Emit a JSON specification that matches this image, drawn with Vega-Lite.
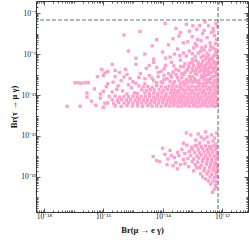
{
"$schema": "https://vega.github.io/schema/vega-lite/v6.json",
"width": 212, "height": 211,
"autosize": {"type": "none"},
"padding": {"left": 36, "top": 1, "right": 1, "bottom": 28},
"config": {"view": {"stroke": "#333", "strokeWidth": 1},
 "axis": {"labelFont": "Liberation Serif", "titleFont": "Liberation Serif", "domain": false, "grid": false, "tickColor": "#333", "tickWidth": 0.8, "labelColor": "#222", "labelFontSize": 7.5, "titleColor": "#111", "titleFontSize": 8.5, "titleFontWeight": "bold", "labelOverlap": false, "labelFlush": false, "labelBound": false}},
"resolve": {"axis": {"x": "independent", "y": "independent"}},
"layer": [
{"data": {"values": [
{"muEG":-12.57,"tauMuG":-7.44},{"muEG":-12.45,"tauMuG":-7.62},{"muEG":-12.2,"tauMuG":-7.5},{"muEG":-13.2,"tauMuG":-7.55},{"muEG":-13.92,"tauMuG":-7.5},{"muEG":-12.85,"tauMuG":-7.8},{"muEG":-13.1,"tauMuG":-7.88},{"muEG":-12.3,"tauMuG":-7.75},{"muEG":-13.4,"tauMuG":-7.95},{"muEG":-12.65,"tauMuG":-8.0},{"muEG":-14.76,"tauMuG":-7.9},{"muEG":-14.2,"tauMuG":-8.3},{"muEG":-13.65,"tauMuG":-8.25},{"muEG":-13.0,"tauMuG":-8.15},{"muEG":-12.7,"tauMuG":-8.35},{"muEG":-12.25,"tauMuG":-8.1},{"muEG":-12.4,"tauMuG":-8.45},{"muEG":-12.9,"tauMuG":-8.5},{"muEG":-13.8,"tauMuG":-8.55},{"muEG":-14.35,"tauMuG":-8.6},{"muEG":-12.18,"tauMuG":-8.3},{"muEG":-12.55,"tauMuG":-8.62},{"muEG":-13.3,"tauMuG":-8.45},{"muEG":-15.3,"tauMuG":-8.07},{"muEG":-12.98,"tauMuG":-7.62},{"muEG":-13.55,"tauMuG":-7.75},{"muEG":-12.35,"tauMuG":-7.95},{"muEG":-12.16,"tauMuG":-7.65},
{"muEG":-12.5,"tauMuG":-8.2},{"muEG":-12.82,"tauMuG":-8.28},{"muEG":-12.22,"tauMuG":-8.5},{"muEG":-13.15,"tauMuG":-8.4},{"muEG":-12.6,"tauMuG":-7.85},{"muEG":-12.28,"tauMuG":-7.88},{"muEG":-13.45,"tauMuG":-8.12},{"muEG":-12.75,"tauMuG":-7.6},
{"muEG":-15.15,"tauMuG":-8.85},{"muEG":-14.6,"tauMuG":-9.0},{"muEG":-14.0,"tauMuG":-8.9},{"muEG":-13.5,"tauMuG":-8.75},{"muEG":-13.2,"tauMuG":-9.1},{"muEG":-12.95,"tauMuG":-8.7},{"muEG":-12.8,"tauMuG":-8.95},{"muEG":-12.6,"tauMuG":-8.8},{"muEG":-12.45,"tauMuG":-9.05},{"muEG":-12.3,"tauMuG":-8.7},{"muEG":-12.2,"tauMuG":-8.9},{"muEG":-12.15,"tauMuG":-9.2},{"muEG":-12.35,"tauMuG":-9.22},{"muEG":-12.55,"tauMuG":-9.25},{"muEG":-12.7,"tauMuG":-9.15},{"muEG":-13.0,"tauMuG":-9.25},{"muEG":-13.4,"tauMuG":-9.3},{"muEG":-13.75,"tauMuG":-9.15},{"muEG":-14.3,"tauMuG":-9.25},{"muEG":-12.25,"tauMuG":-9.05},{"muEG":-12.5,"tauMuG":-8.95},{"muEG":-12.85,"tauMuG":-8.6},{"muEG":-13.6,"tauMuG":-9.0},{"muEG":-14.9,"tauMuG":-9.2},{"muEG":-13.1,"tauMuG":-8.85},{"muEG":-12.4,"tauMuG":-8.8},{"muEG":-12.62,"tauMuG":-9.08},
{"muEG":-12.9,"tauMuG":-9.12},{"muEG":-12.72,"tauMuG":-8.88},{"muEG":-12.5,"tauMuG":-9.15},{"muEG":-12.3,"tauMuG":-9.12},{"muEG":-12.22,"tauMuG":-8.78},{"muEG":-13.3,"tauMuG":-8.95},
{"muEG":-12.38,"tauMuG":-8.62},{"muEG":-12.68,"tauMuG":-8.7},{"muEG":-13.0,"tauMuG":-8.98},{"muEG":-12.18,"tauMuG":-9.02},{"muEG":-13.42,"tauMuG":-9.08},{"muEG":-13.9,"tauMuG":-9.2},{"muEG":-12.42,"tauMuG":-9.25},
{"muEG":-15.7,"tauMuG":-9.5},{"muEG":-15.25,"tauMuG":-9.75},{"muEG":-14.9,"tauMuG":-9.5},{"muEG":-14.55,"tauMuG":-9.7},{"muEG":-14.3,"tauMuG":-9.4},{"muEG":-14.05,"tauMuG":-9.85},{"muEG":-13.9,"tauMuG":-9.55},{"muEG":-13.7,"tauMuG":-9.4},{"muEG":-13.55,"tauMuG":-9.75},{"muEG":-13.4,"tauMuG":-9.6},{"muEG":-13.25,"tauMuG":-9.9},{"muEG":-13.1,"tauMuG":-9.45},{"muEG":-13.0,"tauMuG":-9.7},{"muEG":-12.9,"tauMuG":-9.95},{"muEG":-12.8,"tauMuG":-9.4},{"muEG":-12.7,"tauMuG":-9.6},{"muEG":-12.6,"tauMuG":-9.8},{"muEG":-12.5,"tauMuG":-9.45},{"muEG":-12.42,"tauMuG":-9.65},{"muEG":-12.35,"tauMuG":-9.9},{"muEG":-12.28,"tauMuG":-9.35},{"muEG":-12.2,"tauMuG":-9.55},{"muEG":-12.15,"tauMuG":-9.75},{"muEG":-12.18,"tauMuG":-9.95},{"muEG":-12.3,"tauMuG":-9.7},{"muEG":-12.45,"tauMuG":-9.85},{"muEG":-12.55,"tauMuG":-9.55},{"muEG":-12.65,"tauMuG":-9.35},{"muEG":-12.75,"tauMuG":-9.85},{"muEG":-12.95,"tauMuG":-9.55},{"muEG":-13.15,"tauMuG":-9.75},{"muEG":-13.35,"tauMuG":-9.95},{"muEG":-13.8,"tauMuG":-9.95},{"muEG":-14.2,"tauMuG":-9.65},{"muEG":-12.25,"tauMuG":-9.45},{"muEG":-12.38,"tauMuG":-9.5},{"muEG":-12.6,"tauMuG":-9.95},{"muEG":-12.85,"tauMuG":-9.7},{"muEG":-15.45,"tauMuG":-9.9},{"muEG":-14.75,"tauMuG":-9.95},{"muEG":-16.05,"tauMuG":-9.75},{"muEG":-15.85,"tauMuG":-9.85},{"muEG":-15.6,"tauMuG":-9.8},{"muEG":-15.95,"tauMuG":-9.92},{"muEG":-12.22,"tauMuG":-9.85},{"muEG":-12.48,"tauMuG":-9.75},{"muEG":-12.68,"tauMuG":-9.5},{"muEG":-12.88,"tauMuG":-9.85},{"muEG":-13.05,"tauMuG":-9.9},{"muEG":-12.16,"tauMuG":-9.4},
{"muEG":-13.0,"tauMuG":-9.4},{"muEG":-12.42,"tauMuG":-9.38},{"muEG":-12.88,"tauMuG":-9.3},{"muEG":-13.3,"tauMuG":-9.62},{"muEG":-13.12,"tauMuG":-9.6},{"muEG":-12.78,"tauMuG":-9.64},{"muEG":-12.36,"tauMuG":-9.6},{"muEG":-12.24,"tauMuG":-9.66},{"muEG":-13.45,"tauMuG":-9.8},{"muEG":-13.2,"tauMuG":-9.82},{"muEG":-12.98,"tauMuG":-9.8},{"muEG":-12.7,"tauMuG":-9.78},{"muEG":-12.52,"tauMuG":-9.82},{"muEG":-12.28,"tauMuG":-9.8},{"muEG":-14.45,"tauMuG":-9.55},{"muEG":-13.62,"tauMuG":-9.58},
{"muEG":-13.65,"tauMuG":-9.88},{"muEG":-13.95,"tauMuG":-9.72},{"muEG":-14.15,"tauMuG":-9.9},{"muEG":-13.25,"tauMuG":-9.48},{"muEG":-12.58,"tauMuG":-9.68},{"muEG":-12.8,"tauMuG":-9.52},
{"muEG":-16.95,"tauMuG":-10.4},{"muEG":-16.85,"tauMuG":-10.4},{"muEG":-16.75,"tauMuG":-10.42},{"muEG":-16.62,"tauMuG":-10.4},{"muEG":-16.5,"tauMuG":-10.4},{"muEG":-16.2,"tauMuG":-10.1},{"muEG":-16.0,"tauMuG":-10.05},{"muEG":-15.85,"tauMuG":-10.45},{"muEG":-15.6,"tauMuG":-10.1},{"muEG":-15.4,"tauMuG":-10.3},{"muEG":-15.2,"tauMuG":-10.0},{"muEG":-15.0,"tauMuG":-10.35},{"muEG":-14.8,"tauMuG":-10.15},{"muEG":-14.6,"tauMuG":-10.45},{"muEG":-14.45,"tauMuG":-10.05},{"muEG":-14.3,"tauMuG":-10.3},{"muEG":-14.15,"tauMuG":-10.1},{"muEG":-14.0,"tauMuG":-10.4},{"muEG":-13.85,"tauMuG":-10.2},{"muEG":-13.72,"tauMuG":-10.05},{"muEG":-13.6,"tauMuG":-10.35},{"muEG":-13.5,"tauMuG":-10.15},{"muEG":-13.4,"tauMuG":-10.45},{"muEG":-13.3,"tauMuG":-10.0},{"muEG":-13.2,"tauMuG":-10.25},{"muEG":-13.1,"tauMuG":-10.1},{"muEG":-13.0,"tauMuG":-10.4},{"muEG":-12.92,"tauMuG":-10.2},{"muEG":-12.85,"tauMuG":-10.0},{"muEG":-12.78,"tauMuG":-10.3},{"muEG":-12.7,"tauMuG":-10.15},{"muEG":-12.62,"tauMuG":-10.45},{"muEG":-12.55,"tauMuG":-10.05},{"muEG":-12.48,"tauMuG":-10.25},{"muEG":-12.4,"tauMuG":-10.4},{"muEG":-12.33,"tauMuG":-10.1},{"muEG":-12.26,"tauMuG":-10.3},{"muEG":-12.2,"tauMuG":-10.0},{"muEG":-12.15,"tauMuG":-10.2},{"muEG":-12.16,"tauMuG":-10.45},{"muEG":-12.3,"tauMuG":-10.45},{"muEG":-12.45,"tauMuG":-10.0},{"muEG":-12.6,"tauMuG":-10.25},{"muEG":-12.75,"tauMuG":-10.45},{"muEG":-12.95,"tauMuG":-10.35},{"muEG":-13.15,"tauMuG":-10.4},{"muEG":-13.45,"tauMuG":-10.3},{"muEG":-13.65,"tauMuG":-10.45},{"muEG":-13.95,"tauMuG":-10.25},{"muEG":-14.2,"tauMuG":-10.4},{"muEG":-12.22,"tauMuG":-10.35},{"muEG":-12.38,"tauMuG":-10.2},{"muEG":-12.52,"tauMuG":-10.4},{"muEG":-12.68,"tauMuG":-10.05},{"muEG":-12.88,"tauMuG":-10.3},{"muEG":-13.05,"tauMuG":-10.2},{"muEG":-13.25,"tauMuG":-10.45},{"muEG":-13.55,"tauMuG":-10.0},{"muEG":-14.6,"tauMuG":-10.2},{"muEG":-15.1,"tauMuG":-10.2},{"muEG":-15.67,"tauMuG":-10.37},
{"muEG":-13.7,"tauMuG":-10.12},{"muEG":-13.35,"tauMuG":-10.14},{"muEG":-13.0,"tauMuG":-10.1},{"muEG":-12.62,"tauMuG":-10.13},{"muEG":-12.25,"tauMuG":-10.1},{"muEG":-14.05,"tauMuG":-10.36},{"muEG":-13.75,"tauMuG":-10.34},{"muEG":-13.3,"tauMuG":-10.36},{"muEG":-13.08,"tauMuG":-10.3},{"muEG":-12.82,"tauMuG":-10.38},{"muEG":-12.44,"tauMuG":-10.32},{"muEG":-14.35,"tauMuG":-10.18},{"muEG":-14.9,"tauMuG":-10.42},{"muEG":-15.3,"tauMuG":-10.12},{"muEG":-13.95,"tauMuG":-10.05},
{"muEG":-16.55,"tauMuG":-10.9},{"muEG":-16.3,"tauMuG":-10.7},{"muEG":-16.1,"tauMuG":-10.95},{"muEG":-15.9,"tauMuG":-10.6},{"muEG":-15.7,"tauMuG":-10.85},{"muEG":-15.5,"tauMuG":-10.55},{"muEG":-15.35,"tauMuG":-10.8},{"muEG":-15.2,"tauMuG":-10.95},{"muEG":-15.05,"tauMuG":-10.65},{"muEG":-14.95,"tauMuG":-10.9},{"muEG":-15.55,"tauMuG":-10.72},{"muEG":-15.15,"tauMuG":-10.5},{"muEG":-16.0,"tauMuG":-10.82},
{"muEG":-14.8,"tauMuG":-10.56},{"muEG":-14.65,"tauMuG":-10.6},{"muEG":-14.5,"tauMuG":-10.58},{"muEG":-14.35,"tauMuG":-10.62},{"muEG":-14.2,"tauMuG":-10.55},{"muEG":-14.05,"tauMuG":-10.59},{"muEG":-13.9,"tauMuG":-10.61},{"muEG":-13.78,"tauMuG":-10.56},{"muEG":-13.65,"tauMuG":-10.6},{"muEG":-13.52,"tauMuG":-10.57},{"muEG":-13.4,"tauMuG":-10.62},{"muEG":-13.28,"tauMuG":-10.55},{"muEG":-13.15,"tauMuG":-10.6},{"muEG":-13.02,"tauMuG":-10.58},{"muEG":-12.9,"tauMuG":-10.61},{"muEG":-12.78,"tauMuG":-10.56},{"muEG":-12.66,"tauMuG":-10.6},{"muEG":-12.54,"tauMuG":-10.57},{"muEG":-12.42,"tauMuG":-10.62},{"muEG":-12.3,"tauMuG":-10.58},{"muEG":-12.18,"tauMuG":-10.6},
{"muEG":-14.7,"tauMuG":-10.75},{"muEG":-14.55,"tauMuG":-10.78},{"muEG":-14.42,"tauMuG":-10.73},{"muEG":-14.28,"tauMuG":-10.76},{"muEG":-14.12,"tauMuG":-10.74},{"muEG":-13.98,"tauMuG":-10.77},{"muEG":-13.84,"tauMuG":-10.73},{"muEG":-13.7,"tauMuG":-10.76},{"muEG":-13.58,"tauMuG":-10.75},{"muEG":-13.46,"tauMuG":-10.78},{"muEG":-13.34,"tauMuG":-10.74},{"muEG":-13.22,"tauMuG":-10.76},{"muEG":-13.1,"tauMuG":-10.73},{"muEG":-12.98,"tauMuG":-10.77},{"muEG":-12.86,"tauMuG":-10.75},{"muEG":-12.74,"tauMuG":-10.74},{"muEG":-12.62,"tauMuG":-10.77},{"muEG":-12.5,"tauMuG":-10.73},{"muEG":-12.38,"tauMuG":-10.76},{"muEG":-12.26,"tauMuG":-10.75},{"muEG":-12.15,"tauMuG":-10.77},
{"muEG":-14.85,"tauMuG":-10.92},{"muEG":-14.6,"tauMuG":-10.9},{"muEG":-14.45,"tauMuG":-10.94},{"muEG":-14.3,"tauMuG":-10.91},{"muEG":-14.16,"tauMuG":-10.93},{"muEG":-14.02,"tauMuG":-10.9},{"muEG":-13.88,"tauMuG":-10.94},{"muEG":-13.74,"tauMuG":-10.91},{"muEG":-13.62,"tauMuG":-10.92},{"muEG":-13.5,"tauMuG":-10.9},{"muEG":-13.38,"tauMuG":-10.94},{"muEG":-13.26,"tauMuG":-10.91},{"muEG":-13.14,"tauMuG":-10.93},{"muEG":-13.02,"tauMuG":-10.9},{"muEG":-12.9,"tauMuG":-10.94},{"muEG":-12.78,"tauMuG":-10.92},{"muEG":-12.66,"tauMuG":-10.9},{"muEG":-12.54,"tauMuG":-10.93},{"muEG":-12.42,"tauMuG":-10.91},{"muEG":-12.3,"tauMuG":-10.94},{"muEG":-12.2,"tauMuG":-10.9},
{"muEG":-17.22,"tauMuG":-11.55},{"muEG":-16.78,"tauMuG":-11.55},{"muEG":-16.55,"tauMuG":-11.1},{"muEG":-16.4,"tauMuG":-11.3},{"muEG":-16.25,"tauMuG":-11.5},{"muEG":-16.1,"tauMuG":-11.15},{"muEG":-15.95,"tauMuG":-11.4},{"muEG":-16.0,"tauMuG":-11.6},
{"muEG":-15.8,"tauMuG":-11.08},{"muEG":-15.6,"tauMuG":-11.06},{"muEG":-15.45,"tauMuG":-11.1},{"muEG":-15.3,"tauMuG":-11.07},{"muEG":-15.15,"tauMuG":-11.09},{"muEG":-15.0,"tauMuG":-11.06},{"muEG":-14.86,"tauMuG":-11.1},{"muEG":-14.72,"tauMuG":-11.07},{"muEG":-14.58,"tauMuG":-11.08},{"muEG":-14.44,"tauMuG":-11.06},{"muEG":-14.3,"tauMuG":-11.1},{"muEG":-14.17,"tauMuG":-11.07},{"muEG":-14.04,"tauMuG":-11.09},{"muEG":-13.91,"tauMuG":-11.06},{"muEG":-13.78,"tauMuG":-11.1},{"muEG":-13.66,"tauMuG":-11.08},{"muEG":-13.54,"tauMuG":-11.06},{"muEG":-13.42,"tauMuG":-11.09},{"muEG":-13.3,"tauMuG":-11.07},{"muEG":-13.18,"tauMuG":-11.1},{"muEG":-13.06,"tauMuG":-11.06},{"muEG":-12.94,"tauMuG":-11.08},{"muEG":-12.82,"tauMuG":-11.07},{"muEG":-12.7,"tauMuG":-11.09},{"muEG":-12.58,"tauMuG":-11.06},{"muEG":-12.46,"tauMuG":-11.1},{"muEG":-12.34,"tauMuG":-11.07},{"muEG":-12.22,"tauMuG":-11.08},
{"muEG":-15.7,"tauMuG":-11.23},{"muEG":-15.52,"tauMuG":-11.25},{"muEG":-15.38,"tauMuG":-11.21},{"muEG":-15.22,"tauMuG":-11.24},{"muEG":-15.08,"tauMuG":-11.22},{"muEG":-14.93,"tauMuG":-11.25},{"muEG":-14.79,"tauMuG":-11.21},{"muEG":-14.65,"tauMuG":-11.24},{"muEG":-14.51,"tauMuG":-11.23},{"muEG":-14.37,"tauMuG":-11.25},{"muEG":-14.23,"tauMuG":-11.21},{"muEG":-14.1,"tauMuG":-11.24},{"muEG":-13.97,"tauMuG":-11.22},{"muEG":-13.84,"tauMuG":-11.25},{"muEG":-13.72,"tauMuG":-11.23},{"muEG":-13.6,"tauMuG":-11.21},{"muEG":-13.48,"tauMuG":-11.24},{"muEG":-13.36,"tauMuG":-11.22},{"muEG":-13.24,"tauMuG":-11.25},{"muEG":-13.12,"tauMuG":-11.23},{"muEG":-13.0,"tauMuG":-11.21},{"muEG":-12.88,"tauMuG":-11.24},{"muEG":-12.76,"tauMuG":-11.22},{"muEG":-12.64,"tauMuG":-11.25},{"muEG":-12.52,"tauMuG":-11.23},{"muEG":-12.4,"tauMuG":-11.21},{"muEG":-12.28,"tauMuG":-11.24},{"muEG":-12.16,"tauMuG":-11.22},
{"muEG":-15.85,"tauMuG":-11.38},{"muEG":-15.65,"tauMuG":-11.4},{"muEG":-15.48,"tauMuG":-11.36},{"muEG":-15.3,"tauMuG":-11.39},{"muEG":-15.15,"tauMuG":-11.37},{"muEG":-15.0,"tauMuG":-11.4},{"muEG":-14.85,"tauMuG":-11.36},{"muEG":-14.7,"tauMuG":-11.39},{"muEG":-14.56,"tauMuG":-11.38},{"muEG":-14.42,"tauMuG":-11.4},{"muEG":-14.28,"tauMuG":-11.36},{"muEG":-14.14,"tauMuG":-11.39},{"muEG":-14.0,"tauMuG":-11.37},{"muEG":-13.87,"tauMuG":-11.4},{"muEG":-13.74,"tauMuG":-11.38},{"muEG":-13.62,"tauMuG":-11.36},{"muEG":-13.5,"tauMuG":-11.39},{"muEG":-13.38,"tauMuG":-11.37},{"muEG":-13.26,"tauMuG":-11.4},{"muEG":-13.14,"tauMuG":-11.38},{"muEG":-13.02,"tauMuG":-11.36},{"muEG":-12.9,"tauMuG":-11.39},{"muEG":-12.78,"tauMuG":-11.37},{"muEG":-12.66,"tauMuG":-11.4},{"muEG":-12.54,"tauMuG":-11.38},{"muEG":-12.42,"tauMuG":-11.36},{"muEG":-12.3,"tauMuG":-11.39},{"muEG":-12.18,"tauMuG":-11.37},
{"muEG":-15.6,"tauMuG":-11.53},{"muEG":-15.4,"tauMuG":-11.55},{"muEG":-15.2,"tauMuG":-11.51},{"muEG":-15.02,"tauMuG":-11.54},{"muEG":-14.85,"tauMuG":-11.52},{"muEG":-14.68,"tauMuG":-11.55},{"muEG":-14.5,"tauMuG":-11.51},{"muEG":-14.35,"tauMuG":-11.54},{"muEG":-14.2,"tauMuG":-11.53},{"muEG":-14.05,"tauMuG":-11.55},{"muEG":-13.9,"tauMuG":-11.51},{"muEG":-13.76,"tauMuG":-11.54},{"muEG":-13.62,"tauMuG":-11.52},{"muEG":-13.48,"tauMuG":-11.55},{"muEG":-13.35,"tauMuG":-11.53},{"muEG":-13.22,"tauMuG":-11.51},{"muEG":-13.1,"tauMuG":-11.54},{"muEG":-12.96,"tauMuG":-11.52},{"muEG":-12.84,"tauMuG":-11.55},{"muEG":-12.72,"tauMuG":-11.53},{"muEG":-12.6,"tauMuG":-11.51},{"muEG":-12.48,"tauMuG":-11.54},{"muEG":-12.36,"tauMuG":-11.52},{"muEG":-12.24,"tauMuG":-11.55},{"muEG":-12.15,"tauMuG":-11.53},
{"muEG":-14.32,"tauMuG":-14.0},{"muEG":-14.2,"tauMuG":-14.2},{"muEG":-14.1,"tauMuG":-14.25},{"muEG":-13.92,"tauMuG":-13.9},{"muEG":-13.82,"tauMuG":-14.12},{"muEG":-13.6,"tauMuG":-14.05},{"muEG":-13.55,"tauMuG":-14.3},{"muEG":-13.5,"tauMuG":-13.8},{"muEG":-13.35,"tauMuG":-13.65},{"muEG":-13.2,"tauMuG":-12.85},{"muEG":-13.05,"tauMuG":-12.95},{"muEG":-12.88,"tauMuG":-13.2},{"muEG":-12.7,"tauMuG":-13.05},{"muEG":-12.55,"tauMuG":-12.8},{"muEG":-12.35,"tauMuG":-12.95},{"muEG":-13.02,"tauMuG":-13.55},{"muEG":-13.18,"tauMuG":-13.45},{"muEG":-13.4,"tauMuG":-14.4},{"muEG":-13.12,"tauMuG":-14.5},{"muEG":-12.95,"tauMuG":-14.7},{"muEG":-12.72,"tauMuG":-14.85},{"muEG":-12.55,"tauMuG":-15.1},{"muEG":-12.38,"tauMuG":-15.35},{"muEG":-12.32,"tauMuG":-15.75},{"muEG":-12.2,"tauMuG":-15.5},
{"muEG":-14.0,"tauMuG":-13.6},{"muEG":-13.75,"tauMuG":-13.7},{"muEG":-13.65,"tauMuG":-14.45},{"muEG":-13.3,"tauMuG":-14.15},{"muEG":-13.45,"tauMuG":-13.95},{"muEG":-13.25,"tauMuG":-13.85},{"muEG":-13.1,"tauMuG":-13.75},{"muEG":-12.9,"tauMuG":-13.45},{"muEG":-12.75,"tauMuG":-13.35},{"muEG":-12.6,"tauMuG":-13.15},{"muEG":-12.45,"tauMuG":-13.3},{"muEG":-12.25,"tauMuG":-13.1},{"muEG":-12.18,"tauMuG":-12.85},{"muEG":-12.8,"tauMuG":-12.9},{"muEG":-12.4,"tauMuG":-13.6},{"muEG":-12.2,"tauMuG":-13.4},{"muEG":-13.85,"tauMuG":-14.4},{"muEG":-13.7,"tauMuG":-13.95},
{"muEG":-13.3,"tauMuG":-13.35},{"muEG":-12.5,"tauMuG":-13.05},{"muEG":-12.3,"tauMuG":-13.25},{"muEG":-13.5,"tauMuG":-14.6},{"muEG":-13.25,"tauMuG":-14.35},{"muEG":-12.85,"tauMuG":-14.55},{"muEG":-12.65,"tauMuG":-15.0},{"muEG":-12.45,"tauMuG":-15.2},{"muEG":-12.26,"tauMuG":-15.6},
{"muEG":-12.85,"tauMuG":-13.5},{"muEG":-12.7,"tauMuG":-13.52},{"muEG":-12.55,"tauMuG":-13.48},{"muEG":-12.42,"tauMuG":-13.51},{"muEG":-12.3,"tauMuG":-13.49},{"muEG":-12.18,"tauMuG":-13.52},
{"muEG":-13.0,"tauMuG":-13.65},{"muEG":-12.8,"tauMuG":-13.67},{"muEG":-12.65,"tauMuG":-13.63},{"muEG":-12.5,"tauMuG":-13.66},{"muEG":-12.36,"tauMuG":-13.64},{"muEG":-12.22,"tauMuG":-13.67},
{"muEG":-12.92,"tauMuG":-13.8},{"muEG":-12.76,"tauMuG":-13.82},{"muEG":-12.6,"tauMuG":-13.78},{"muEG":-12.46,"tauMuG":-13.81},{"muEG":-12.32,"tauMuG":-13.79},{"muEG":-12.17,"tauMuG":-13.82},
{"muEG":-13.05,"tauMuG":-13.95},{"muEG":-12.85,"tauMuG":-13.97},{"muEG":-12.7,"tauMuG":-13.93},{"muEG":-12.55,"tauMuG":-13.96},{"muEG":-12.4,"tauMuG":-13.94},{"muEG":-12.26,"tauMuG":-13.97},{"muEG":-12.15,"tauMuG":-13.95},
{"muEG":-13.15,"tauMuG":-14.1},{"muEG":-12.95,"tauMuG":-14.12},{"muEG":-12.78,"tauMuG":-14.08},{"muEG":-12.62,"tauMuG":-14.11},{"muEG":-12.48,"tauMuG":-14.09},{"muEG":-12.34,"tauMuG":-14.12},{"muEG":-12.2,"tauMuG":-14.1},
{"muEG":-13.0,"tauMuG":-14.25},{"muEG":-12.82,"tauMuG":-14.27},{"muEG":-12.66,"tauMuG":-14.23},{"muEG":-12.5,"tauMuG":-14.26},{"muEG":-12.36,"tauMuG":-14.24},{"muEG":-12.22,"tauMuG":-14.27},
{"muEG":-12.9,"tauMuG":-14.4},{"muEG":-12.7,"tauMuG":-14.42},{"muEG":-12.52,"tauMuG":-14.38},{"muEG":-12.38,"tauMuG":-14.41},{"muEG":-12.24,"tauMuG":-14.39},{"muEG":-12.15,"tauMuG":-14.42},
{"muEG":-12.75,"tauMuG":-14.55},{"muEG":-12.58,"tauMuG":-14.57},{"muEG":-12.42,"tauMuG":-14.53},{"muEG":-12.28,"tauMuG":-14.56},{"muEG":-12.16,"tauMuG":-14.54},
{"muEG":-12.6,"tauMuG":-14.7},{"muEG":-12.45,"tauMuG":-14.72},{"muEG":-12.3,"tauMuG":-14.68},{"muEG":-12.18,"tauMuG":-14.71},
{"muEG":-12.5,"tauMuG":-14.85},{"muEG":-12.35,"tauMuG":-14.87},{"muEG":-12.2,"tauMuG":-14.84},
{"muEG":-12.4,"tauMuG":-15.0},{"muEG":-12.25,"tauMuG":-15.02},{"muEG":-12.15,"tauMuG":-14.99},
{"muEG":-12.3,"tauMuG":-15.2},{"muEG":-12.18,"tauMuG":-15.22},{"muEG":-12.22,"tauMuG":-15.4}
]},
"mark": {"type": "square", "size": 11, "color": "#ff9fca", "opacity": 1},
"encoding": {
 "x": {"field": "muEG", "type": "quantitative", "scale": {"domain": [-18.27, -11.12], "nice": false, "zero": false},
  "axis": {"orient": "bottom", "title": "Br(μ → e γ)", "titlePadding": 4, "labelPadding": 4,
   "values": [-18.222,-18.155,-18.097,-18.046,-18,-17.699,-17.523,-17.398,-17.301,-17.222,-17.155,-17.097,-17.046,-17,-16.699,-16.523,-16.398,-16.301,-16.222,-16.155,-16.097,-16.046,-16,-15.699,-15.523,-15.398,-15.301,-15.222,-15.155,-15.097,-15.046,-15,-14.699,-14.523,-14.398,-14.301,-14.222,-14.155,-14.097,-14.046,-14,-13.699,-13.523,-13.398,-13.301,-13.222,-13.155,-13.097,-13.046,-13,-12.699,-12.523,-12.398,-12.301,-12.222,-12.155,-12.097,-12.046,-12,-11.699,-11.523,-11.398,-11.301,-11.222,-11.155],
   "labelExpr": "datum.value == -18 ? '10⁻¹⁸' : datum.value == -16 ? '10⁻¹⁶' : datum.value == -14 ? '10⁻¹⁴' : datum.value == -12 ? '10⁻¹²' : ''",
   "tickSize": {"condition": {"test": "datum.value == -18 || datum.value == -16 || datum.value == -14 || datum.value == -12", "value": -4}, "value": -2}}},
 "y": {"field": "tauMuG", "type": "quantitative", "scale": {"domain": [-16.71, -6.41], "nice": false, "zero": false},
  "axis": {"orient": "left", "title": "Br(τ → μ γ)", "titlePadding": 2, "labelPadding": 4,
   "values": [-16.699,-16.523,-16.398,-16.301,-16.222,-16.155,-16.097,-16.046,-16,-15.699,-15.523,-15.398,-15.301,-15.222,-15.155,-15.097,-15.046,-15,-14.699,-14.523,-14.398,-14.301,-14.222,-14.155,-14.097,-14.046,-14,-13.699,-13.523,-13.398,-13.301,-13.222,-13.155,-13.097,-13.046,-13,-12.699,-12.523,-12.398,-12.301,-12.222,-12.155,-12.097,-12.046,-12,-11.699,-11.523,-11.398,-11.301,-11.222,-11.155,-11.097,-11.046,-11,-10.699,-10.523,-10.398,-10.301,-10.222,-10.155,-10.097,-10.046,-10,-9.699,-9.523,-9.398,-9.301,-9.222,-9.155,-9.097,-9.046,-9,-8.699,-8.523,-8.398,-8.301,-8.222,-8.155,-8.097,-8.046,-8,-7.699,-7.523,-7.398,-7.301,-7.222,-7.155,-7.097,-7.046,-7,-6.699,-6.523],
   "labelExpr": "datum.value == -7 ? '10⁻⁷' : datum.value == -9 ? '10⁻⁹' : datum.value == -11 ? '10⁻¹¹' : datum.value == -13 ? '10⁻¹³' : datum.value == -15 ? '10⁻¹⁵' : ''",
   "tickSize": {"condition": {"test": "datum.value == -7 || datum.value == -9 || datum.value == -11 || datum.value == -13 || datum.value == -15", "value": -4}, "value": -2}}}
}},
{"data": {"values": [{"limit": "tau to mu gamma", "tauMuG": -7.34}]},
 "mark": {"type": "rule", "color": "#5f7d79", "strokeWidth": 1.1, "strokeDash": [4, 2]},
 "encoding": {
  "y": {"field": "tauMuG", "type": "quantitative", "scale": {"domain": [-16.71, -6.41], "nice": false, "zero": false},
   "axis": {"orient": "right", "title": null, "labels": false,
    "values": [-16.699,-16.523,-16.398,-16.301,-16.222,-16.155,-16.097,-16.046,-16,-15.699,-15.523,-15.398,-15.301,-15.222,-15.155,-15.097,-15.046,-15,-14.699,-14.523,-14.398,-14.301,-14.222,-14.155,-14.097,-14.046,-14,-13.699,-13.523,-13.398,-13.301,-13.222,-13.155,-13.097,-13.046,-13,-12.699,-12.523,-12.398,-12.301,-12.222,-12.155,-12.097,-12.046,-12,-11.699,-11.523,-11.398,-11.301,-11.222,-11.155,-11.097,-11.046,-11,-10.699,-10.523,-10.398,-10.301,-10.222,-10.155,-10.097,-10.046,-10,-9.699,-9.523,-9.398,-9.301,-9.222,-9.155,-9.097,-9.046,-9,-8.699,-8.523,-8.398,-8.301,-8.222,-8.155,-8.097,-8.046,-8,-7.699,-7.523,-7.398,-7.301,-7.222,-7.155,-7.097,-7.046,-7,-6.699,-6.523],
    "tickSize": {"condition": {"test": "datum.value == -7 || datum.value == -9 || datum.value == -11 || datum.value == -13 || datum.value == -15", "value": -4}, "value": -2}}}
 }},
{"data": {"values": [{"limit": "mu to e gamma", "muEG": -12.13}]},
 "mark": {"type": "rule", "color": "#5f7d79", "strokeWidth": 1.1, "strokeDash": [4, 2]},
 "encoding": {
  "x": {"field": "muEG", "type": "quantitative", "scale": {"domain": [-18.27, -11.12], "nice": false, "zero": false},
   "axis": {"orient": "top", "title": null, "labels": false,
    "values": [-18.222,-18.155,-18.097,-18.046,-18,-17.699,-17.523,-17.398,-17.301,-17.222,-17.155,-17.097,-17.046,-17,-16.699,-16.523,-16.398,-16.301,-16.222,-16.155,-16.097,-16.046,-16,-15.699,-15.523,-15.398,-15.301,-15.222,-15.155,-15.097,-15.046,-15,-14.699,-14.523,-14.398,-14.301,-14.222,-14.155,-14.097,-14.046,-14,-13.699,-13.523,-13.398,-13.301,-13.222,-13.155,-13.097,-13.046,-13,-12.699,-12.523,-12.398,-12.301,-12.222,-12.155,-12.097,-12.046,-12,-11.699,-11.523,-11.398,-11.301,-11.222,-11.155],
    "tickSize": {"condition": {"test": "datum.value == -18 || datum.value == -16 || datum.value == -14 || datum.value == -12", "value": -4}, "value": -2}}}
 }}
]
}
